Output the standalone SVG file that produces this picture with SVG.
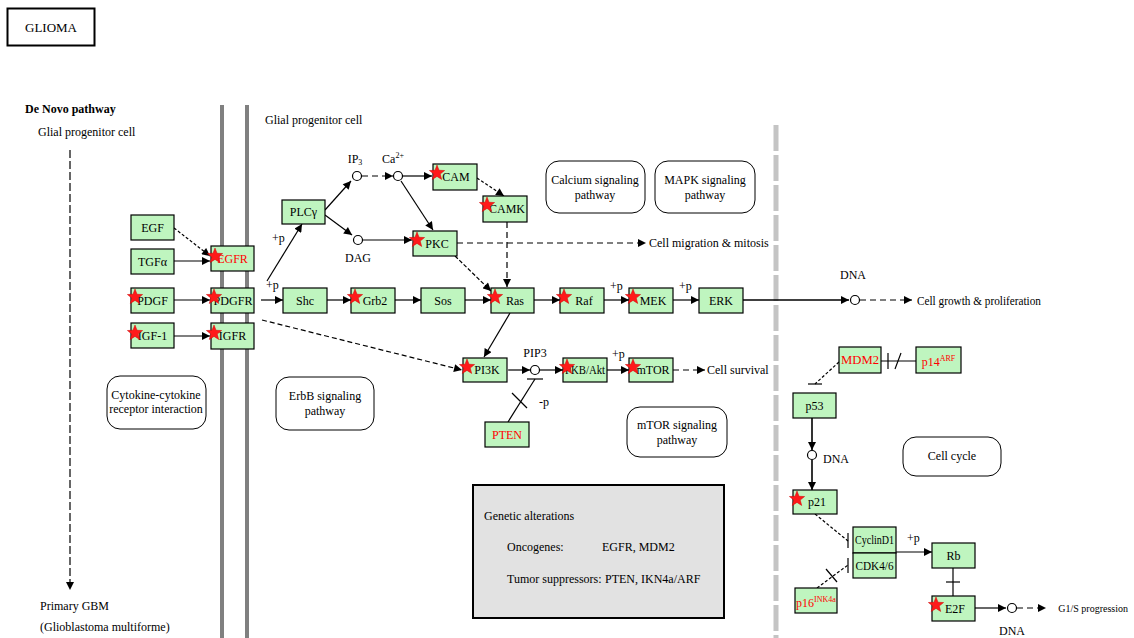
<svg xmlns="http://www.w3.org/2000/svg" width="1134" height="638" viewBox="0 0 1134 638" font-family="Liberation Serif, serif">
<style>
text{font-family:"Liberation Serif","Times New Roman",serif;font-size:12px;fill:#000}
.lbl{text-anchor:middle}
.red{fill:#ff0000}
.node{fill:#bff5bf;stroke:#000;stroke-width:1.2}
.pw{fill:#fff;stroke:#000;stroke-width:1}
.ln{fill:none;stroke:#000;stroke-width:1.2}
.dash{stroke-dasharray:6 4}
.sm{font-size:8px}
.star{fill:#ff1a1a;stroke:#d00000;stroke-width:0.5}
</style>
<defs>
<marker id="arr" viewBox="0 0 10 10" refX="10" refY="5" markerWidth="9" markerHeight="8" markerUnits="userSpaceOnUse" orient="auto"><path d="M0,0 L10,5 L0,10 z" fill="#000"/></marker>
<path id="star" class="star" d="M0,-8 L2,-2.75 L7.61,-2.47 L3.23,1.05 L4.7,6.47 L0,3.4 L-4.7,6.47 L-3.23,1.05 L-7.61,-2.47 L-2,-2.75 Z"/>
</defs>
<rect width="1134" height="638" fill="#fff"/>

<g id="title"><rect x="7.5" y="8.5" width="87" height="37" fill="#fff" stroke="#000" stroke-width="2"/><text x="51" y="32" class="lbl" style="font-size:13px">GLIOMA</text></g>

<g id="membranes">
<line x1="222" y1="105" x2="222" y2="638" stroke="#808080" stroke-width="4"/>
<line x1="247" y1="105" x2="247" y2="638" stroke="#808080" stroke-width="4"/>
<line x1="776" y1="125" x2="776" y2="638" stroke="#c4c4c4" stroke-width="5" stroke-dasharray="26 4"/>
</g>

<g id="labels">
<text x="25" y="113" style="font-weight:bold">De Novo pathway</text>
<text x="38" y="136">Glial progenitor cell</text>
<text x="265" y="124">Glial progenitor cell</text>
<text x="40" y="610">Primary GBM</text>
<text x="40" y="631">(Glioblastoma multiforme)</text>
<text x="355" y="163" class="lbl">IP<tspan class="sm" dy="2">3</tspan></text>
<text x="393" y="163" class="lbl">Ca<tspan class="sm" dy="-5">2+</tspan></text>
<text x="358" y="262" class="lbl">DAG</text>
<text x="535" y="357" class="lbl">PIP3</text>
<text x="853" y="279" class="lbl">DNA</text>
<text x="823" y="463">DNA</text>
<text x="1012" y="635" class="lbl">DNA</text>
<text x="649" y="247">Cell migration &amp; mitosis</text>
<text x="917" y="305" textLength="124" lengthAdjust="spacingAndGlyphs">Cell growth &amp; proliferation</text>
<text x="707" y="374">Cell survival</text>
<text x="1128" y="612" style="font-size:10px;text-anchor:end">G1/S progression</text>
<text x="272" y="242">+p</text>
<text x="266" y="289">+p</text>
<text x="610" y="290">+p</text>
<text x="679" y="290">+p</text>
<text x="612" y="358">+p</text>
<text x="907" y="542">+p</text>
<text x="539" y="406">-p</text>
</g>

<g id="pw-cytokine"><rect class="pw" x="107" y="376" width="99" height="53" rx="13"/><text x="156" y="399" class="lbl">Cytokine-cytokine</text><text x="156" y="413" class="lbl">receptor interaction</text></g>
<g id="pw-erbb"><rect class="pw" x="276" y="377" width="98" height="53" rx="13"/><text x="325" y="400" class="lbl">ErbB signaling</text><text x="325" y="415" class="lbl">pathway</text></g>
<g id="pw-calcium"><rect class="pw" x="546" y="161" width="99" height="52" rx="13"/><text x="595" y="184" class="lbl">Calcium signaling</text><text x="595" y="199" class="lbl">pathway</text></g>
<g id="pw-mapk"><rect class="pw" x="655" y="161" width="100" height="52" rx="13"/><text x="705" y="184" class="lbl">MAPK signaling</text><text x="705" y="199" class="lbl">pathway</text></g>
<g id="pw-mtor"><rect class="pw" x="627" y="407" width="100" height="50" rx="13"/><text x="677" y="429" class="lbl">mTOR signaling</text><text x="677" y="444" class="lbl">pathway</text></g>
<g id="pw-cellcycle"><rect class="pw" x="903" y="437" width="98" height="39" rx="13"/><text x="952" y="460" class="lbl">Cell cycle</text></g>

<g id="legend"><rect x="473" y="485" width="251" height="133" fill="#e2e2e2" stroke="#000" stroke-width="2"/>
<text x="484" y="520">Genetic alterations</text>
<text x="507" y="551">Oncogenes:</text><text x="602" y="551">EGFR, MDM2</text>
<text x="507" y="583">Tumor suppressors:</text><text x="605" y="583">PTEN, IKN4a/ARF</text></g>

<g id="connectors">
<line class="ln dash" x1="70" y1="150" x2="70" y2="590" marker-end="url(#arr)" style="stroke-dasharray:8 3"/>
<line class="ln dash" x1="174" y1="228" x2="210" y2="256" marker-end="url(#arr)" style="stroke-dasharray:3 2"/>
<line class="ln" x1="174" y1="261" x2="210" y2="261" marker-end="url(#arr)"/>
<line class="ln" x1="174" y1="300" x2="210" y2="300" marker-end="url(#arr)"/>
<line class="ln" x1="174" y1="336" x2="210" y2="336" marker-end="url(#arr)"/>
<line class="ln" x1="261" y1="300" x2="283" y2="300" marker-end="url(#arr)"/>
<line class="ln" x1="267" y1="281" x2="302" y2="224" marker-end="url(#arr)"/>
<line class="ln dash" x1="262" y1="320" x2="462" y2="370" marker-end="url(#arr)" style="stroke-dasharray:5 3"/>
<line class="ln" x1="325" y1="210" x2="351" y2="181" marker-end="url(#arr)"/>
<line class="ln" x1="325" y1="215" x2="352" y2="235" marker-end="url(#arr)"/>
<line class="ln dash" x1="362" y1="176" x2="393" y2="176" marker-end="url(#arr)"/>
<line class="ln" x1="402" y1="176" x2="432" y2="176" marker-end="url(#arr)"/>
<line class="ln" x1="401" y1="181" x2="433" y2="230" marker-end="url(#arr)"/>
<line class="ln" x1="362" y1="240" x2="412" y2="240" marker-end="url(#arr)"/>
<line class="ln dash" x1="477" y1="178" x2="504" y2="196" marker-end="url(#arr)" style="stroke-dasharray:3 2"/>
<line class="ln dash" x1="507" y1="222" x2="507" y2="287" marker-end="url(#arr)"/>
<line class="ln dash" x1="457" y1="243" x2="646" y2="243" marker-end="url(#arr)"/>
<line class="ln" x1="455" y1="256" x2="491" y2="291" marker-end="url(#arr)" style="stroke-dasharray:4 2"/>
<line class="ln" x1="327" y1="300" x2="351" y2="300" marker-end="url(#arr)"/>
<line class="ln" x1="395" y1="300" x2="421" y2="300" marker-end="url(#arr)"/>
<line class="ln" x1="465" y1="300" x2="491" y2="300" marker-end="url(#arr)"/>
<line class="ln" x1="534" y1="300" x2="560" y2="300" marker-end="url(#arr)"/>
<line class="ln" x1="604" y1="300" x2="629" y2="300" marker-end="url(#arr)"/>
<line class="ln" x1="673" y1="300" x2="699" y2="300" marker-end="url(#arr)"/>
<line class="ln" x1="743" y1="300" x2="849" y2="300" marker-end="url(#arr)" style="stroke-width:1.6"/>
<line class="ln dash" x1="860" y1="300" x2="912" y2="300" marker-end="url(#arr)"/>
<line class="ln" x1="510" y1="313" x2="484" y2="357" marker-end="url(#arr)"/>
<line class="ln" x1="508" y1="370" x2="530" y2="370" marker-end="url(#arr)"/>
<line class="ln" x1="540" y1="370" x2="563" y2="370" marker-end="url(#arr)"/>
<line class="ln" x1="607" y1="370" x2="629" y2="370" marker-end="url(#arr)"/>
<line class="ln dash" x1="673" y1="370" x2="705" y2="370" marker-end="url(#arr)"/>
<line class="ln" x1="508" y1="422" x2="535" y2="379"/>
<line class="ln" x1="527" y1="379" x2="543" y2="379"/>
<line class="ln" x1="512" y1="393" x2="527" y2="408"/>
<line class="ln" x1="881" y1="361" x2="916" y2="361"/>
<line class="ln" x1="888" y1="353" x2="888" y2="369"/>
<line class="ln" x1="895" y1="369" x2="901" y2="353"/>
<line class="ln dash" x1="839" y1="362" x2="815" y2="384" style="stroke-dasharray:3 2"/>
<line class="ln" x1="808" y1="384" x2="822" y2="384"/>
<line class="ln" x1="812" y1="418" x2="812" y2="450" marker-end="url(#arr)" style="stroke-width:1.6"/>
<line class="ln" x1="812" y1="460" x2="812" y2="490" marker-end="url(#arr)" style="stroke-width:1.6"/>
<line class="ln dash" x1="815" y1="514" x2="848" y2="541" style="stroke-dasharray:3 2"/>
<line class="ln" x1="848" y1="533" x2="848" y2="548"/>
<line class="ln dash" x1="817" y1="588" x2="848" y2="565" style="stroke-dasharray:3 2"/>
<line class="ln" x1="848" y1="558" x2="848" y2="573"/>
<line class="ln" x1="826" y1="569" x2="837" y2="582"/>
<line class="ln" x1="896" y1="552" x2="932" y2="552" marker-end="url(#arr)"/>
<line class="ln" x1="953" y1="568" x2="953" y2="596"/>
<line class="ln" x1="946" y1="582" x2="960" y2="582"/>
<line class="ln" x1="975" y1="608" x2="1006" y2="608" marker-end="url(#arr)"/>
<line class="ln dash" x1="1017" y1="608" x2="1046" y2="608" marker-end="url(#arr)"/>
<circle cx="357" cy="176" r="4.5" fill="#fff" stroke="#000" stroke-width="1.2"/>
<circle cx="398" cy="176" r="4.5" fill="#fff" stroke="#000" stroke-width="1.2"/>
<circle cx="358" cy="240" r="4.5" fill="#fff" stroke="#000" stroke-width="1.2"/>
<circle cx="535" cy="370" r="4.5" fill="#fff" stroke="#000" stroke-width="1.2"/>
<circle cx="855" cy="300" r="4.5" fill="#fff" stroke="#000" stroke-width="1.2"/>
<circle cx="812" cy="455" r="4.5" fill="#fff" stroke="#000" stroke-width="1.2"/>
<circle cx="1012" cy="608" r="4.5" fill="#fff" stroke="#000" stroke-width="1.2"/>
</g>

<g id="n-egf"><rect class="node" x="131" y="215" width="43" height="25"/><text class="lbl" x="152.5" y="231.5">EGF</text></g>
<g id="n-tgfa"><rect class="node" x="131" y="249" width="43" height="25"/><text class="lbl" x="152.5" y="265.5">TGFα</text></g>
<g id="n-pdgf"><rect class="node" x="131" y="288" width="43" height="25"/><text class="lbl" x="152.5" y="304.5">PDGF</text><use href="#star" x="135" y="297"/></g>
<g id="n-igf1"><rect class="node" x="131" y="323" width="43" height="25"/><text class="lbl" x="152.5" y="339.5">IGF-1</text><use href="#star" x="135" y="333"/></g>
<g id="n-egfr"><rect class="node" x="211" y="246" width="43" height="25"/><text class="lbl red" x="232.5" y="262.5">EGFR</text><use href="#star" x="215" y="256"/></g>
<g id="n-pdgfr"><rect class="node" x="211" y="288" width="43" height="25"/><text class="lbl" x="233" y="304.5" textLength="39" lengthAdjust="spacingAndGlyphs">PDGFR</text><use href="#star" x="214" y="297"/></g>
<g id="n-igfr"><rect class="node" x="211" y="323" width="43" height="26"/><text class="lbl" x="232.5" y="340">IGFR</text><use href="#star" x="214" y="333"/></g>
<g id="n-plcg"><rect class="node" x="282" y="200" width="43" height="24"/><text class="lbl" x="303.5" y="216">PLCγ</text></g>
<g id="n-cam"><rect class="node" x="433" y="164" width="44" height="26"/><text class="lbl" x="456" y="181">CAM</text><use href="#star" x="437" y="173"/></g>
<g id="n-camk"><rect class="node" x="483" y="196" width="44" height="26"/><text class="lbl" x="507" y="213">CAMK</text><use href="#star" x="487" y="205"/></g>
<g id="n-pkc"><rect class="node" x="413" y="231" width="44" height="25"/><text class="lbl" x="437" y="247.5">PKC</text><use href="#star" x="417" y="240"/></g>
<g id="n-shc"><rect class="node" x="283" y="288" width="44" height="25"/><text class="lbl" x="305" y="304.5">Shc</text></g>
<g id="n-grb2"><rect class="node" x="351" y="288" width="44" height="25"/><text class="lbl" x="375" y="304.5">Grb2</text><use href="#star" x="355" y="297"/></g>
<g id="n-sos"><rect class="node" x="421" y="288" width="44" height="25"/><text class="lbl" x="443" y="304.5">Sos</text></g>
<g id="n-ras"><rect class="node" x="491" y="288" width="43" height="25"/><text class="lbl" x="515" y="304.5">Ras</text><use href="#star" x="495" y="297"/></g>
<g id="n-raf"><rect class="node" x="560" y="288" width="44" height="25"/><text class="lbl" x="584" y="304.5">Raf</text><use href="#star" x="564" y="297"/></g>
<g id="n-mek"><rect class="node" x="629" y="288" width="44" height="25"/><text class="lbl" x="653" y="304.5">MEK</text><use href="#star" x="633" y="297"/></g>
<g id="n-erk"><rect class="node" x="699" y="288" width="44" height="25"/><text class="lbl" x="721" y="304.5">ERK</text></g>
<g id="n-pi3k"><rect class="node" x="463" y="358" width="44" height="24"/><text class="lbl" x="487" y="374">PI3K</text><use href="#star" x="467" y="367"/></g>
<g id="n-akt"><rect class="node" x="563" y="358" width="44" height="24"/><text class="lbl" x="585" y="374" textLength="40" lengthAdjust="spacingAndGlyphs">PKB/Akt</text><use href="#star" x="567" y="367"/></g>
<g id="n-mtor"><rect class="node" x="629" y="358" width="44" height="24"/><text class="lbl" x="653" y="374">mTOR</text><use href="#star" x="633" y="367"/></g>
<g id="n-pten"><rect class="node" x="485" y="422" width="44" height="25"/><text class="lbl red" x="507" y="438.5">PTEN</text></g>
<g id="n-mdm2"><rect class="node" x="839" y="347" width="42" height="26"/><text class="lbl red" x="860" y="364" textLength="38" lengthAdjust="spacingAndGlyphs">MDM2</text></g>
<g id="n-p14"><rect class="node" x="916" y="347" width="45" height="26"/><text class="lbl red" x="938.5" y="366">p14<tspan class="sm red" dy="-5">ARF</tspan></text></g>
<g id="n-p53"><rect class="node" x="793" y="393" width="43" height="25"/><text class="lbl" x="814.5" y="409.5">p53</text></g>
<g id="n-p21"><rect class="node" x="793" y="490" width="44" height="24"/><text class="lbl" x="817" y="506">p21</text><use href="#star" x="797" y="499"/></g>
<g id="n-cyclind1"><rect class="node" x="853" y="527" width="43" height="26"/><text class="lbl" x="874.5" y="544" textLength="39" lengthAdjust="spacingAndGlyphs">CyclinD1</text></g>
<g id="n-cdk46"><rect class="node" x="853" y="553" width="43" height="25"/><text class="lbl" x="874.5" y="569.5" textLength="38" lengthAdjust="spacingAndGlyphs">CDK4/6</text></g>
<g id="n-rb"><rect class="node" x="932" y="543" width="43" height="25"/><text class="lbl" x="953.5" y="559.5">Rb</text></g>
<g id="n-p16"><rect class="node" x="795" y="588" width="42" height="25"/><text class="lbl red" x="816" y="607">p16<tspan class="sm red" dy="-5">INK4a</tspan></text></g>
<g id="n-e2f"><rect class="node" x="932" y="596" width="43" height="25"/><text class="lbl" x="955" y="612.5">E2F</text><use href="#star" x="936" y="605"/></g>
</svg>
